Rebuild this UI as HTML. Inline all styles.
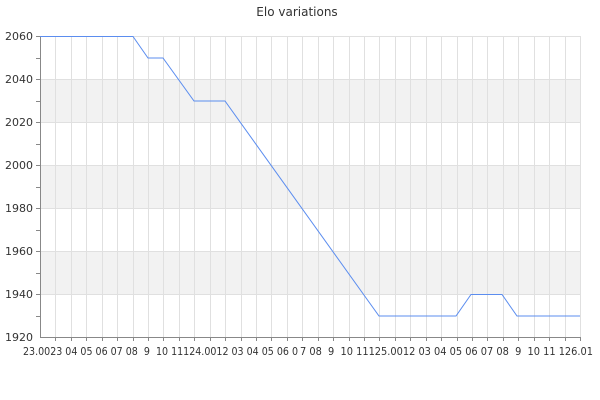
<!DOCTYPE html>
<html><head><meta charset="utf-8"><style>body{margin:0;background:#fff}svg{display:block}</style></head>
<body>
<svg width="600" height="400" xmlns="http://www.w3.org/2000/svg" font-family="'DejaVu Sans','Liberation Sans',sans-serif">
<rect width="600" height="400" fill="#fff"/>
<text x="297" y="16" text-anchor="middle" font-size="12" fill="#333">Elo variations</text>
<g fill="#f2f2f2">
<rect x="40" y="79" width="540" height="43"/>
<rect x="40" y="165" width="540" height="43"/>
<rect x="40" y="251" width="540" height="43"/>
</g>
<g stroke="#e0e0e0" stroke-width="1">
<line x1="40" y1="36.5" x2="580" y2="36.5"/>
<line x1="40" y1="79.5" x2="580" y2="79.5"/>
<line x1="40" y1="122.5" x2="580" y2="122.5"/>
<line x1="40" y1="165.5" x2="580" y2="165.5"/>
<line x1="40" y1="208.5" x2="580" y2="208.5"/>
<line x1="40" y1="251.5" x2="580" y2="251.5"/>
<line x1="40" y1="294.5" x2="580" y2="294.5"/>
</g>
<g stroke="#e0e0e0" stroke-width="1" id="vg"></g>
<g stroke="#888" stroke-width="1">
<line x1="40.5" y1="36" x2="40.5" y2="337"/>
<line x1="40" y1="337.5" x2="580" y2="337.5"/>
<line x1="36" y1="36.5" x2="40" y2="36.5"/>
<line x1="36" y1="58.5" x2="40" y2="58.5"/>
<line x1="36" y1="79.5" x2="40" y2="79.5"/>
<line x1="36" y1="101.5" x2="40" y2="101.5"/>
<line x1="36" y1="122.5" x2="40" y2="122.5"/>
<line x1="36" y1="144.5" x2="40" y2="144.5"/>
<line x1="36" y1="165.5" x2="40" y2="165.5"/>
<line x1="36" y1="187.5" x2="40" y2="187.5"/>
<line x1="36" y1="208.5" x2="40" y2="208.5"/>
<line x1="36" y1="230.5" x2="40" y2="230.5"/>
<line x1="36" y1="251.5" x2="40" y2="251.5"/>
<line x1="36" y1="273.5" x2="40" y2="273.5"/>
<line x1="36" y1="294.5" x2="40" y2="294.5"/>
<line x1="36" y1="316.5" x2="40" y2="316.5"/>
</g>
<g font-size="11" fill="#333" text-anchor="end">
<text x="33" y="40">2060</text>
<text x="33" y="83">2040</text>
<text x="33" y="126">2020</text>
<text x="33" y="169">2000</text>
<text x="33" y="212">1980</text>
<text x="33" y="255">1960</text>
<text x="33" y="298">1940</text>
<text x="33" y="341">1920</text>
</g>
<g font-size="11" fill="#333">
<text x="23" y="355" textLength="275" lengthAdjust="spacingAndGlyphs" xml:space="preserve">23.0023 04 05 06 07 08  9  10 11124.0012 03 04 05 06 0</text>
<text x="300" y="355" textLength="293" lengthAdjust="spacingAndGlyphs" xml:space="preserve">7 08  9  10 11125.0012 03 04 05 06 07 08  9  10 11 126.01</text>
</g>
<polyline fill="none" stroke="#5b8def" stroke-width="1" points="40,36.5 133,36.5 148,58 163,58 194,101 225,101 379,316 456,316 471,294.5 502,294.5 517,316 580,316"/>
<script>
var g=document.getElementById('vg');
for(var i=1;i<=35;i++){var x=Math.round(40+i*540/35)+0.5;var l=document.createElementNS('http://www.w3.org/2000/svg','line');l.setAttribute('x1',x);l.setAttribute('x2',x);l.setAttribute('y1',36);l.setAttribute('y2',337);g.appendChild(l);
var t=document.createElementNS('http://www.w3.org/2000/svg','line');t.setAttribute('x1',x);t.setAttribute('x2',x);t.setAttribute('y1',337);t.setAttribute('y2',341);t.setAttribute('stroke','#888');g.appendChild(t);}
</script>
</svg>
</body></html>
